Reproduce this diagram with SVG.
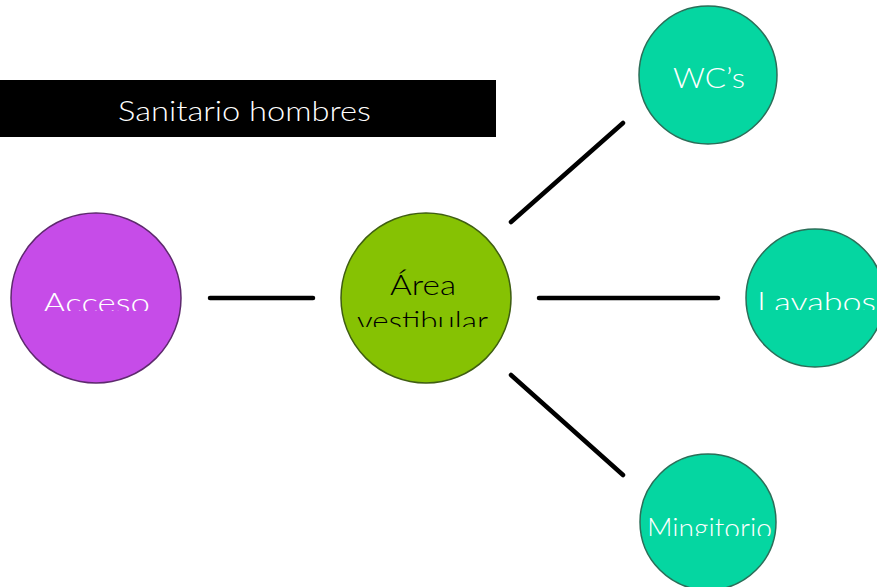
<svg xmlns="http://www.w3.org/2000/svg" width="877" height="587" viewBox="0 0 877 587">
<style>
.lbl{font-family:Lato,"Open Sans","DejaVu Sans",sans-serif;font-weight:300;font-size:27px}
.w{fill:#ffffff}
.k{fill:#000000}
.conn line{stroke:#000;stroke-width:4.5;stroke-linecap:round}
.purple{fill:#C64CE8;stroke:#5E2A6E;stroke-width:1.5}
.green{fill:#86C203;stroke:#3F5E12;stroke-width:1.5}
.teal{fill:#05D6A1;stroke:#2B6E58;stroke-width:1.5}
</style>
<defs>
<clipPath id="cAcceso"><rect x="0" y="200" width="300" height="111"/></clipPath>
<clipPath id="cArea"><rect x="330" y="200" width="200" height="127"/></clipPath>
<clipPath id="cLav"><rect x="730" y="220" width="147" height="90"/></clipPath>
<clipPath id="cMing"><rect x="630" y="450" width="200" height="86"/></clipPath>
</defs>
<rect width="877" height="587" fill="#ffffff"/>
<g id="title">
<rect x="0" y="80" width="496" height="57" fill="#000"/>
<text class="lbl w" x="118" y="121" font-size="30" textLength="253" lengthAdjust="spacingAndGlyphs">Sanitario hombres</text>
</g>
<g class="conn" id="connectors">
<line x1="210" y1="298" x2="313" y2="298"/>
<line x1="511" y1="222" x2="623" y2="123"/>
<line x1="539" y1="298" x2="718" y2="298"/>
<line x1="511" y1="375" x2="623" y2="475"/>
</g>
<g id="acceso">
<circle class="purple" cx="96" cy="298" r="85"/>
<text class="lbl w" x="43" y="313" clip-path="url(#cAcceso)" textLength="107" lengthAdjust="spacingAndGlyphs">Acceso</text>
</g>
<g id="area">
<circle class="green" cx="426" cy="298" r="85"/>
<text class="lbl k" x="390" y="295" textLength="66" lengthAdjust="spacingAndGlyphs">Área</text>
<text class="lbl k" x="357" y="331" clip-path="url(#cArea)" textLength="131" lengthAdjust="spacingAndGlyphs">vestibular</text>
</g>
<g id="wcs">
<circle class="teal" cx="708" cy="75" r="69"/>
<text class="lbl w" x="673" y="88" font-size="31" textLength="72" lengthAdjust="spacingAndGlyphs">WC’s</text>
</g>
<g id="lavabos">
<circle class="teal" cx="815" cy="298" r="69"/>
<text class="lbl w" x="757" y="312" clip-path="url(#cLav)" textLength="119" lengthAdjust="spacingAndGlyphs">Lavabos</text>
</g>
<g id="mingitorio">
<circle class="teal" cx="708" cy="522" r="68"/>
<text class="lbl w" x="647" y="538" clip-path="url(#cMing)" textLength="125" lengthAdjust="spacingAndGlyphs">Mingitorio</text>
</g>
</svg>
